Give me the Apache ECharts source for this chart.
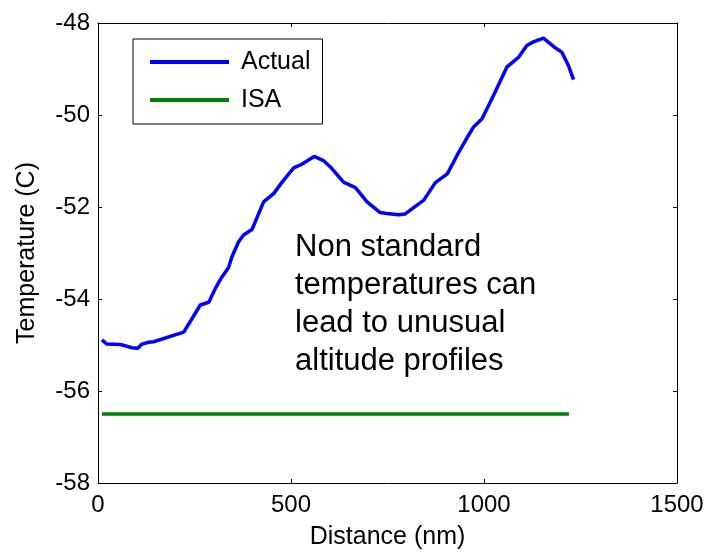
<!DOCTYPE html>
<html>
<head>
<meta charset="utf-8">
<script src="https://cdn.jsdelivr.net/npm/echarts@6/dist/echarts.min.js"></script>
<style>html,body{margin:0;padding:0;background:#fff}#c{width:713px;height:555px}</style>
</head>
<body>
<div id="c"></div>
<script>
const distance = [10,23,58,88,103,114,131,144,222,239,265,287,304,321,338,347,364,377,399,429,455,477,507,528,560,584,602,636,667,697,731,748,779,796,844,874,905,930,960,973,995,1029,1059,1090,1111,1128,1154,1180,1202,1219,1232];
const actualTemp = [-54.89,-54.98,-54.99,-55.06,-55.07,-54.98,-54.94,-54.93,-54.72,-54.49,-54.13,-54.07,-53.77,-53.52,-53.32,-53.08,-52.76,-52.61,-52.49,-51.89,-51.71,-51.46,-51.15,-51.07,-50.90,-50.99,-51.13,-51.46,-51.58,-51.89,-52.12,-52.14,-52.17,-52.15,-51.85,-51.47,-51.28,-50.88,-50.44,-50.26,-50.08,-49.50,-48.96,-48.74,-48.49,-48.41,-48.33,-48.51,-48.64,-48.93,-49.23];
const isaDistance = [10, 1220];
const isaTemp = [-56.5, -56.5];
const seriesNames = ['Actual', 'ISA'];
const xTitle = 'Distance (nm)';
const yTitle = 'Temperature (C)';
const note = 'Non standard\ntemperatures can\nlead to unusual\naltitude profiles';

const FONT = 'Liberation Sans';
const chart = echarts.init(document.getElementById('c'));
const axisCommon = {
  axisLine: {show: true, onZero: false, lineStyle: {color: '#000', width: 1}},
  axisTick: {show: true, inside: true, length: 4, lineStyle: {color: '#000'}},
  splitLine: {show: false}
};
chart.setOption({
  animation: false,
  textStyle: {fontFamily: FONT},
  grid: {left: 98, right: 36, top: 23, bottom: 72},
  legend: {
    orient: 'vertical', left: 133, top: 39,
    padding: [9, 12, 10, 17],
    borderColor: '#000', borderWidth: 1,
    itemWidth: 79, itemHeight: 4, itemGap: 10, icon: 'rect',
    textStyle: {fontSize: 25, color: '#000', fontFamily: FONT, lineHeight: 28, padding: [0, 0, 0, 7]},
    data: seriesNames
  },
  xAxis: [
    Object.assign({type: 'value', min: 0, max: 1500, interval: 500, position: 'bottom',
      name: xTitle, nameLocation: 'middle', nameGap: 42,
      nameTextStyle: {fontSize: 25, color: '#000', fontFamily: FONT},
      axisLabel: {fontSize: 24, color: '#000', margin: 10, fontFamily: FONT, formatter: v => String(v)}}, axisCommon),
    Object.assign({type: 'value', min: 0, max: 1500, interval: 500, position: 'top',
      axisLabel: {show: false}}, axisCommon)
  ],
  yAxis: [
    Object.assign({type: 'value', min: -58, max: -48, interval: 2, position: 'left',
      name: yTitle, nameLocation: 'middle', nameGap: 58,
      nameTextStyle: {fontSize: 25, color: '#000', fontFamily: FONT},
      axisLabel: {fontSize: 24, color: '#000', margin: 8, fontFamily: FONT, formatter: v => String(v)}}, axisCommon),
    Object.assign({type: 'value', min: -58, max: -48, interval: 2, position: 'right',
      axisLabel: {show: false}}, axisCommon)
  ],
  graphic: [{
    type: 'text', left: 295, top: 228,
    style: {text: note, fontSize: 31, lineHeight: 38, fill: '#000', fontFamily: FONT}
  }],
  series: [
    {name: seriesNames[0], type: 'line', showSymbol: false, color: '#0000ff',
      lineStyle: {width: 3.5, color: '#0000ff'},
      data: distance.map((d, i) => [d, actualTemp[i]])},
    {name: seriesNames[1], type: 'line', showSymbol: false, color: '#008000',
      lineStyle: {width: 3.5, color: '#008000'},
      data: isaDistance.map((d, i) => [d, isaTemp[i]])}
  ]
});
</script>
</body>
</html>
